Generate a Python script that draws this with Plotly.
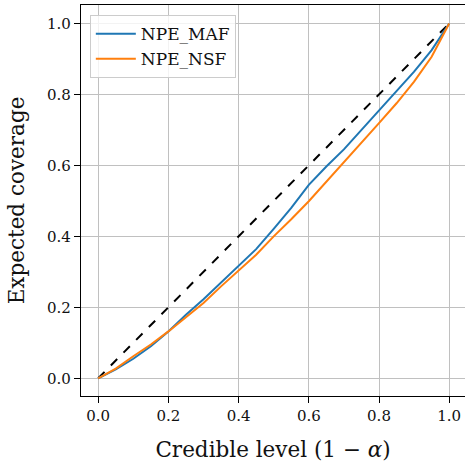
import plotly.graph_objects as go

credible_level = [0.0, 0.05, 0.1, 0.15, 0.2, 0.25, 0.3, 0.35, 0.4, 0.45, 0.5,
                  0.55, 0.6, 0.65, 0.7, 0.75, 0.8, 0.85, 0.9, 0.95, 1.0]
coverage_maf = [0.0, 0.025, 0.055, 0.090, 0.132, 0.179, 0.223, 0.270, 0.317, 0.364, 0.421,
                0.480, 0.545, 0.597, 0.645, 0.700, 0.756, 0.812, 0.864, 0.925, 1.0]
coverage_nsf = [0.0, 0.027, 0.062, 0.095, 0.132, 0.173, 0.212, 0.259, 0.304, 0.348, 0.400,
                0.448, 0.499, 0.554, 0.606, 0.662, 0.719, 0.775, 0.836, 0.906, 1.0]
diag = [0.0, 1.0]
tick_vals = [0.0, 0.2, 0.4, 0.6, 0.8, 1.0]
tick_text = ["0.0", "0.2", "0.4", "0.6", "0.8", "1.0"]

FONT = "DejaVu Serif"

fig = go.Figure()
fig.add_trace(go.Scatter(x=diag, y=diag, mode="lines",
                         line=dict(color="black", width=2, dash="dash"),
                         showlegend=False, hoverinfo="skip"))
fig.add_trace(go.Scatter(x=credible_level, y=coverage_maf, mode="lines",
                         name="NPE_MAF", line=dict(color="#1f77b4", width=2)))
fig.add_trace(go.Scatter(x=credible_level, y=coverage_nsf, mode="lines",
                         name="NPE_NSF", line=dict(color="#ff7f0e", width=2)))

axis_common = dict(
    showgrid=True, gridcolor="#c0c0c0", gridwidth=1.3,
    zeroline=False, showline=True, linecolor="black", linewidth=1.2,
    ticks="outside", ticklen=6, tickwidth=1, tickcolor="black",
    tickvals=tick_vals, ticktext=tick_text, automargin=False,
    tickfont=dict(family=FONT, size=15, color="#111"),
)

fig.update_layout(
    width=465, height=464,
    margin=dict(l=81, r=0, t=5, b=68),
    paper_bgcolor="white", plot_bgcolor="white",
    font=dict(family=FONT, color="#111"),
    xaxis=dict(range=[-0.049, 1.045], mirror=True,
               title=dict(text="Credible level (1 − <i>α</i>)",
                          font=dict(family=FONT, size=21.5), standoff=17),
               **axis_common),
    yaxis=dict(range=[-0.05, 1.052], mirror=False,
               title=dict(text="Expected coverage",
                          font=dict(family=FONT, size=21.5), standoff=16),
               **axis_common),
    legend=dict(x=0.023, y=0.974, xanchor="left", yanchor="top",
                bgcolor="rgba(255,255,255,0.8)", bordercolor="#cccccc", borderwidth=1,
                font=dict(family=FONT, size=17, color="#111"),
                itemwidth=40, tracegroupgap=2),
)

fig.write_html("out.html", config={"displayModeBar": False},
               post_script="document.body.style.margin='0';document.body.style.overflow='hidden';")
